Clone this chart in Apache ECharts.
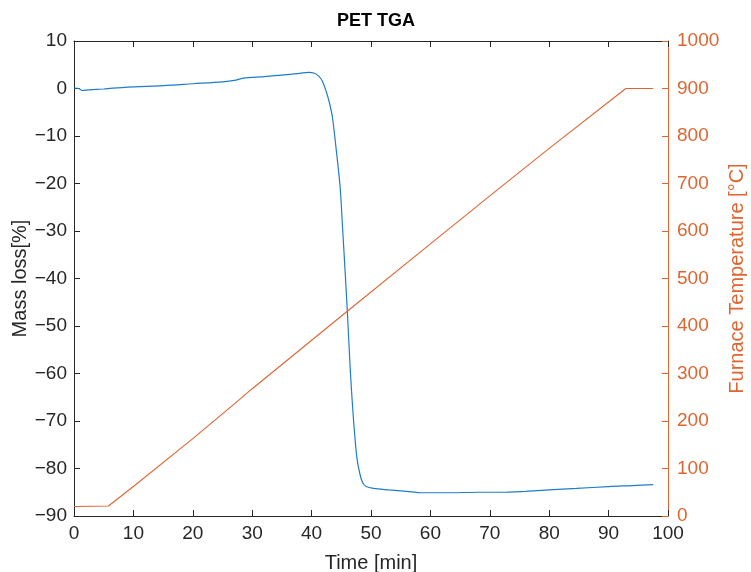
<!DOCTYPE html>
<html>
<head>
<meta charset="utf-8">
<script src="https://cdn.jsdelivr.net/npm/echarts@6/dist/echarts.min.js"></script>
<style>html,body{margin:0;padding:0;background:#fff;}#c{width:751px;height:572px;}</style>
</head>
<body>
<div id="c"></div>
<script>
const massTime = [0,0.8,1.4,2.5,5,9,15,20,25,27,28.5,32,35,38,39.5,40.5,41.2,41.8,42.5,43.0,43.5,44.2,44.8,45.2,45.6,46.0,46.5,47.0,47.6,48.1,48.6,49.2,50.4,53,56,58.5,63,68,72,76,80,84.6,90,94,97.5];
const massValues = [0.1,0.0,-0.4,-0.3,-0.1,0.3,0.6,1.0,1.4,1.7,2.2,2.5,2.8,3.2,3.4,3.2,2.6,1.6,-0.8,-3.0,-6,-13.5,-20.7,-29,-37.6,-46.5,-59,-68.8,-77.5,-81,-83,-83.8,-84.2,-84.5,-84.8,-85.1,-85.1,-85.0,-85.0,-84.8,-84.5,-84.2,-83.8,-83.6,-83.4];
const tempTime = [0,5.8,10,20,27,30,45.9,60,70,80,92.9,97.5];
const tempValues = [20,21,62,163,236,268,430,573,674,774,900,900];
const xTicks = {min:0,max:100,interval:10};
const yLeftTicks = {min:-90,max:10,interval:10};
const yRightTicks = {min:0,max:1000,interval:100};

const blue = '#1F7DC8', orange = '#DF6530', dark = '#262626';
const font = 'Liberation Sans, Arial, Helvetica, sans-serif';
const fmt = v => String(v).replace('-', '\u2212');
const chart = echarts.init(document.getElementById('c'));
chart.setOption({
  animation:false,
  title:{text:'PET TGA',left:371,top:7,textAlign:'center',textStyle:{fontFamily:font,fontSize:18,fontWeight:'bold',color:'#000'}},
  grid:{left:74,right:83,top:41,bottom:56,containLabel:false,outerBoundsMode:'none'},
  xAxis:[{
    type:'value',min:xTicks.min,max:xTicks.max,interval:xTicks.interval,position:'bottom',
    name:'Time [min]',nameLocation:'middle',nameGap:37,nameMoveOverlap:false,
    nameTextStyle:{fontFamily:font,fontSize:20,color:dark},
    axisLine:{onZero:false,lineStyle:{color:dark,width:1}},
    axisTick:{inside:true,length:6,lineStyle:{color:dark}},
    axisLabel:{fontFamily:font,fontSize:19,color:dark,margin:8,formatter:fmt},
    splitLine:{show:false}
  },{
    type:'value',min:xTicks.min,max:xTicks.max,interval:xTicks.interval,position:'top',
    axisLine:{onZero:false,lineStyle:{color:dark,width:1}},
    axisTick:{inside:true,length:6,lineStyle:{color:dark}},
    axisLabel:{show:false},splitLine:{show:false}
  }],
  yAxis:[{
    type:'value',min:yLeftTicks.min,max:yLeftTicks.max,interval:yLeftTicks.interval,position:'left',
    name:'Mass loss[%]',nameLocation:'middle',nameGap:44,nameRotate:90,nameMoveOverlap:false,
    nameTextStyle:{fontFamily:font,fontSize:20,color:dark},
    axisLine:{show:true,onZero:false,lineStyle:{color:dark,width:1}},
    axisTick:{show:true,inside:true,length:6,lineStyle:{color:dark}},
    axisLabel:{fontFamily:font,fontSize:19,color:dark,margin:7,formatter:fmt},
    splitLine:{show:false}
  },{
    type:'value',min:yRightTicks.min,max:yRightTicks.max,interval:yRightTicks.interval,position:'right',
    name:'Furnace Temperature [°C]',nameLocation:'middle',nameGap:59,nameRotate:90,nameMoveOverlap:false,
    nameTextStyle:{fontFamily:font,fontSize:20,color:orange},
    axisLine:{show:true,onZero:false,lineStyle:{color:orange,width:1}},
    axisTick:{show:true,inside:true,length:6,lineStyle:{color:orange}},
    axisLabel:{fontFamily:font,fontSize:19,color:orange,margin:9,formatter:v=>String(v)},
    splitLine:{show:false}
  }],
  series:[{
    type:'line',xAxisIndex:0,yAxisIndex:0,showSymbol:false,smooth:0.3,
    data:massTime.map((t,i)=>[t,massValues[i]]),
    lineStyle:{color:blue,width:1.2},itemStyle:{color:blue}
  },{
    type:'line',xAxisIndex:0,yAxisIndex:1,showSymbol:false,
    data:tempTime.map((t,i)=>[t,tempValues[i]]),
    lineStyle:{color:orange,width:1.1},itemStyle:{color:orange}
  }]
});
</script>
</body>
</html>
